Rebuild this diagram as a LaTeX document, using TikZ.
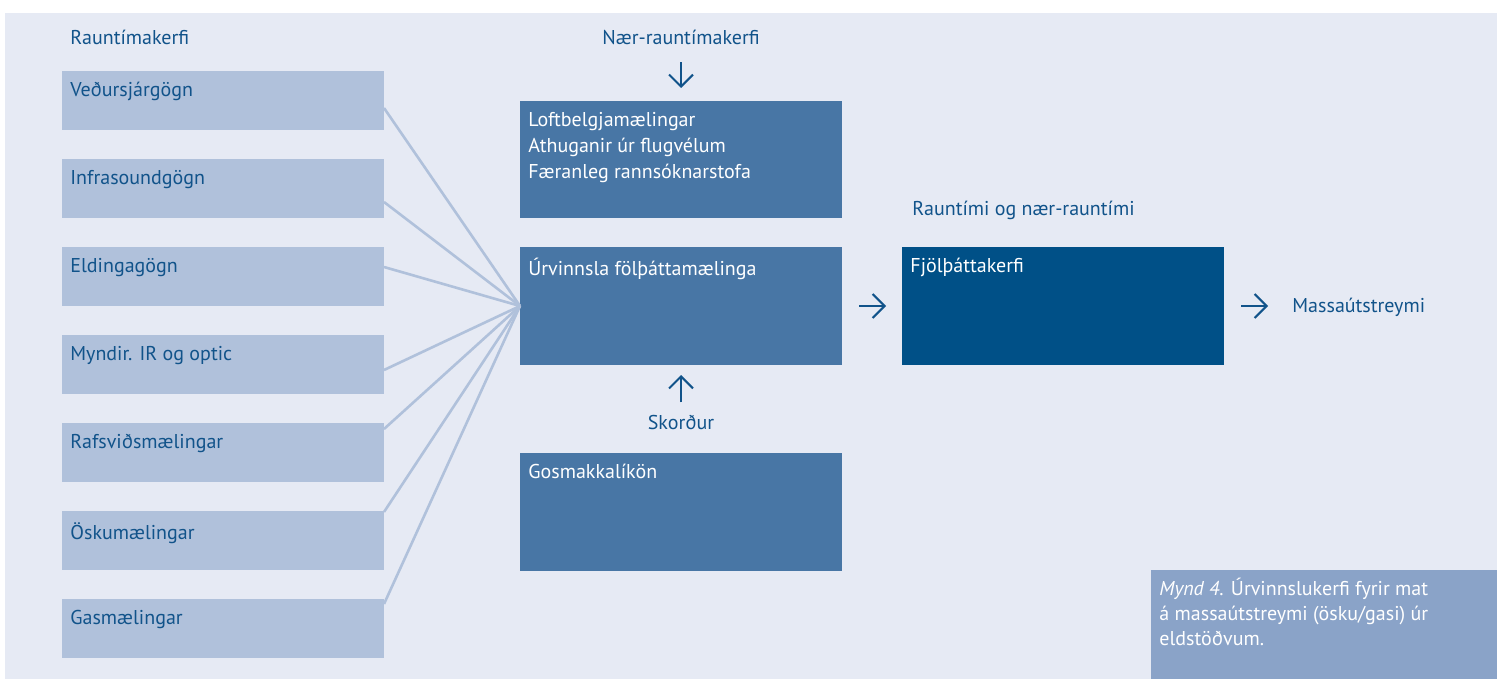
\documentclass[tikz,border=0pt]{standalone}
\usepackage{fontspec}
\setmainfont{PT Sans}
\usetikzlibrary{arrows.meta,positioning}
\definecolor{bgblue}{HTML}{E6EAF4}
\definecolor{srcblue}{HTML}{B0C1DB}
\definecolor{midblue}{HTML}{4876A5}
\definecolor{darkblue}{HTML}{005087}
\definecolor{capblue}{HTML}{8AA3C8}
\definecolor{txtblue}{HTML}{11538A}

\begin{document}
\begin{tikzpicture}[
x=0.5pt, y=-0.5pt,
font=\fontsize{10}{13}\selectfont,
>={Straight Barb[length=6pt,width=12pt]},
srcbox/.style={rectangle,
								fill=srcblue,
								anchor=north west,
								minimum width=161pt,
								minimum height=29.5pt,
								inner sep=0pt, outer sep=0pt},
midbox/.style={srcbox, fill=midblue, minimum height=59pt},
boxtxt/.style={anchor=north west, inner xsep=4pt, inner ysep=5.5pt, align=left, text=txtblue},
whitetxt/.style={boxtxt, text=white},
head/.style={inner sep=0pt, text depth=0pt, text=txtblue},
pointer/.style={->, draw=txtblue, line width=1pt},
feed/.style={draw=srcblue, line width=1.3pt}]
  \useasboundingbox (0,0) rectangle (1497,679);
  \fill[bgblue] (5,13) rectangle (1497,679);
%left column
  \node[head, anchor=base west] (rt) at (70,45) {Rauntímakerfi};
  \node[srcbox, label={[boxtxt]north west:Veðursjárgögn}] (vedur) at (62,71) {};
  \node[srcbox, below=14.5pt of vedur, label={[boxtxt]north west:Infrasoundgögn}] (infra) {};
  \node[srcbox, below=14.5pt of infra, label={[boxtxt]north west:Eldingagögn}] (elding) {};
  \node[srcbox, below=14.5pt of elding, label={[boxtxt]north west:Myndir. IR og optic}] (myndir) {};
  \node[srcbox, below=14.5pt of myndir, label={[boxtxt]north west:Rafsviðsmælingar}] (rafsvid) {};
  \node[srcbox, below=14.5pt of rafsvid, label={[boxtxt]north west:Öskumælingar}] (osku) {};
  \node[srcbox, below=14.5pt of osku, label={[boxtxt]north west:Gasmælingar}] (gas) {};
%middle column
  \node[head, anchor=base] (naer) at (681,45) {Nær-rauntímakerfi};
  \node[midbox, minimum height=58.5pt,
    label={[whitetxt]north west:{Loftbelgjamælingar\\Athuganir úr flugvélum\\Færanleg rannsóknarstofa}}] (loft) at (520,101) {};
  \node[midbox, below=14.5pt of loft, label={[whitetxt]north west:Úrvinnsla fölþáttamælinga}] (urv) {};
  \node[head, anchor=base] (skor) at (681,429) {Skorður};
  \node[midbox, below=44pt of urv, label={[whitetxt]north west:Gosmakkalíkön}] (gos) {};
%right column
  \node[midbox, fill=darkblue, right=30pt of urv, label={[whitetxt]north west:Fjölþáttakerfi}] (fjol) {};
  \node[head, anchor=base west] (rtn) at (912,215) {Rauntími og nær-rauntími};
  \node[head, anchor=base west] (mass) at (1292,312) {Massaútstreymi};
%caption
  \node[srcbox, fill=capblue, minimum width=173pt, minimum height=54.5pt,
    label={[whitetxt, inner ysep=4pt, font=\fontsize{10}{12.5}\selectfont]north west:{\textit{Mynd 4.} Úrvinnslukerfi fyrir mat\\á massaútstreymi (ösku/gasi) úr\\eldstöðvum.}}] (cap) at (1151,570) {};
%paths
  \path[every edge/.style={feed}]
    ([yshift=-18.5pt]vedur.north east) edge (urv.west)
    ([yshift=-21.5pt]infra.north east) edge (urv.west)
    ([yshift=-10pt]elding.north east) edge (urv.west)
    ([yshift=-17.5pt]myndir.north east) edge (urv.west)
    ([yshift=-3pt]rafsvid.north east) edge (urv.west)
    ([yshift=-0.5pt]osku.north east) edge (urv.west)
    ([yshift=-2.5pt]gas.north east) edge (urv.west);
  \path[every edge/.style={pointer}]
    (naer.south) edge[shorten <=8.5pt, shorten >=6.5pt] (loft.north)
    (skor.north) edge[shorten <=6pt, shorten >=5pt] (urv.south)
    (urv.east) edge[shorten <=8.5pt, shorten >=8pt] (fjol.west)
    (fjol.east) edge[shorten <=8.5pt, shorten >=12pt] (fjol.east -| mass.west);
\end{tikzpicture}
\end{document}
